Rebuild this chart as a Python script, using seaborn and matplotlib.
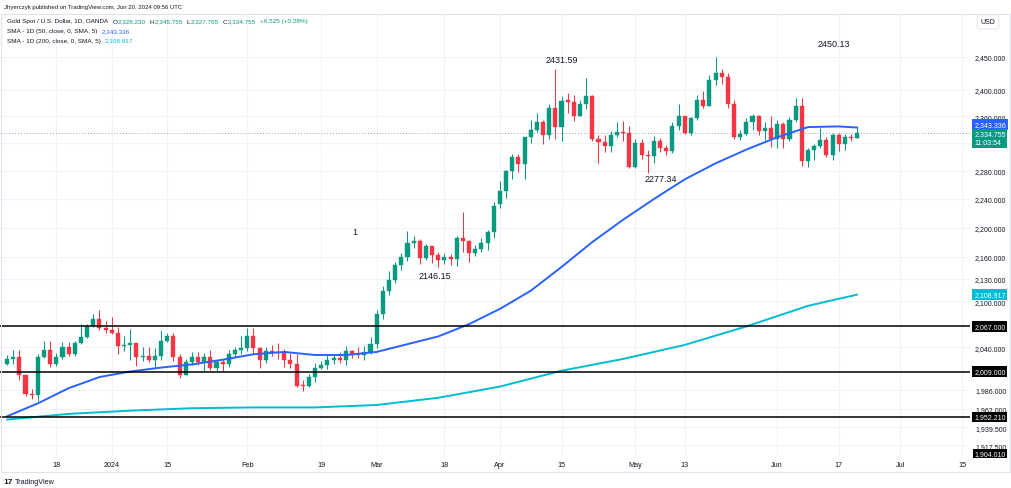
import numpy as np
import pandas as pd
import matplotlib
matplotlib.use("Agg")
import matplotlib.pyplot as plt
import seaborn as sns
from matplotlib.ticker import NullLocator
from matplotlib.patches import Rectangle

# ---------------- data ----------------
holidays = ["2023-12-25", "2024-01-01", "2024-03-29"]
dates_all = pd.bdate_range("2023-12-06", "2024-07-31")
dates_all = dates_all[~dates_all.isin(pd.to_datetime(holidays))]

opens = [2019, 2025, 2028, 2004, 1981, 1979, 2027, 2036, 2019, 2027, 2040, 2031, 2045, 2053, 2067, 2077, 2065,
         2062, 2058, 2041, 2043, 2045, 2028, 2029, 2024, 2029, 2048, 2054, 2027, 2005, 2021, 2028, 2021, 2028, 2013, 2021, 2018, 2031, 2036,
         2039, 2054, 2039, 2024, 2035, 2034, 2033, 2024, 2019, 1992, 1991, 2002, 2013, 2017, 2024, 2026, 2024, 2035, 2031, 2030, 2034,
         2044, 2083, 2114, 2128, 2148, 2160, 2179, 2182, 2158, 2174, 2162, 2155, 2160, 2157, 2186, 2181, 2165, 2171, 2179, 2194,
         2233, 2251, 2280, 2300, 2290, 2329, 2339, 2352, 2333, 2372, 2344, 2384, 2382, 2361, 2379, 2391, 2327, 2322, 2316, 2332, 2337, 2336,
         2286, 2320, 2303, 2301, 2323, 2314, 2309, 2346, 2360, 2336, 2358, 2385, 2376, 2415, 2425, 2420, 2378, 2329, 2334, 2351, 2360, 2338, 2343,
         2327, 2349, 2327, 2355, 2375, 2294, 2311, 2316, 2325, 2303, 2333, 2319, 2329, 2328.23]
highs = [2030, 2036, 2036, 2005, 1987, 2031, 2048, 2048, 2032, 2047, 2047, 2048, 2070, 2070, 2083, 2088, 2074,
         2079, 2066, 2055, 2064, 2046, 2040, 2040, 2039, 2062, 2059, 2058, 2031, 2025, 2034, 2034, 2032, 2037, 2024, 2025, 2036, 2040, 2055,
         2065, 2065, 2040, 2040, 2043, 2045, 2038, 2032, 2031, 1998, 2006, 2020, 2023, 2031, 2030, 2034, 2041, 2037, 2040, 2041, 2053,
         2088, 2120, 2141, 2153, 2165, 2195, 2189, 2184, 2178, 2175, 2166, 2165, 2164, 2188, 2222, 2183, 2176, 2185, 2196, 2236,
         2265, 2281, 2305, 2305, 2330, 2354, 2365, 2355, 2378, 2431.59, 2390, 2395, 2392, 2384, 2418, 2392, 2333, 2333, 2338, 2352, 2353, 2346,
         2326, 2326, 2311, 2331, 2328, 2318, 2352, 2378, 2361, 2359, 2392, 2398, 2422, 2450.13, 2432, 2425, 2385, 2339, 2358, 2364, 2362, 2351, 2360,
         2354, 2352, 2359, 2388, 2387, 2313, 2319, 2342, 2330, 2335, 2335, 2334, 2334, 2345.755]
lows = [2017, 2018, 1998, 1978, 1974, 1972, 2026, 2015, 2016, 2025, 2029, 2029, 2044, 2052, 2066, 2062, 2058,
        2057, 2031, 2035, 2024, 2016, 2022, 2021, 2013, 2024, 2047, 2023, 2001, 2004, 2017, 2017, 2010, 2011, 2010, 2010, 2015, 2027, 2031,
        2035, 2031, 2014, 2020, 2029, 2025, 2015, 2013, 1990, 1984, 1989, 1996, 2012, 2012, 2019, 2020, 2017, 2026, 2026, 2024, 2031,
        2039, 2077, 2109, 2124, 2142, 2154, 2172, 2150, 2155, 2152, 2146.15, 2150, 2148, 2147, 2167, 2153, 2161, 2167, 2169, 2186,
        2228, 2242, 2268, 2278, 2268, 2321, 2337, 2319, 2326, 2326, 2323, 2365, 2353, 2360, 2371, 2323, 2291, 2308, 2308, 2330, 2324, 2285,
        2285, 2297, 2277.34, 2292, 2308, 2303, 2306, 2339, 2334, 2333, 2354, 2373, 2376, 2407, 2408, 2373, 2326, 2325, 2332, 2340, 2332, 2325, 2315,
        2314, 2314, 2323, 2352, 2287, 2286, 2296, 2313, 2300, 2296, 2309, 2311, 2323, 2327.765]
closes = [2025, 2028, 2004, 1981, 1979, 2027, 2036, 2019, 2027, 2040, 2031, 2045, 2053, 2067, 2077, 2065, 2062,
          2058, 2041, 2043, 2045, 2028, 2029, 2024, 2029, 2048, 2054, 2027, 2005, 2021, 2028, 2021, 2028, 2013, 2021, 2018, 2031, 2036, 2039,
          2054, 2039, 2024, 2035, 2034, 2033, 2024, 2019, 1991, 1991, 2002, 2013, 2017, 2024, 2026, 2024, 2035, 2031, 2030, 2034, 2044,
          2083, 2114, 2128, 2148, 2160, 2179, 2182, 2158, 2174, 2162, 2155, 2160, 2157, 2186, 2181, 2165, 2171, 2179, 2194, 2230,
          2251, 2280, 2300, 2290, 2329, 2339, 2352, 2333, 2372, 2344, 2383, 2382, 2361, 2379, 2391, 2327, 2322, 2316, 2332, 2337, 2336, 2286,
          2320, 2303, 2301, 2323, 2314, 2309, 2346, 2360, 2336, 2358, 2385, 2376, 2415, 2425, 2420, 2378, 2329, 2334, 2351, 2360, 2338, 2343, 2327,
          2349, 2327, 2355, 2375, 2294, 2311, 2316, 2325, 2303, 2333, 2319, 2329, 2328.23, 2334.755]

sma50_dates = ["2023-12-06", "2023-12-13", "2023-12-20", "2023-12-28", "2024-01-05", "2024-01-12", "2024-01-19",
               "2024-01-26", "2024-02-02", "2024-02-09", "2024-02-16", "2024-02-23", "2024-03-01", "2024-03-08",
               "2024-03-15", "2024-03-22", "2024-04-01", "2024-04-08", "2024-04-15", "2024-04-22", "2024-04-29",
               "2024-05-06", "2024-05-13", "2024-05-20", "2024-05-27", "2024-06-03", "2024-06-10", "2024-06-17",
               "2024-06-20"]
sma50_vals = [1953, 1969, 1988, 2002, 2009, 2014, 2018, 2024, 2031, 2034, 2030, 2030, 2034, 2044, 2054, 2070,
              2090, 2114, 2146, 2180, 2211, 2240, 2268, 2291, 2311, 2329, 2344, 2345, 2343.336]
sma200_dates = ["2023-12-06", "2023-12-20", "2024-01-05", "2024-01-19", "2024-02-02", "2024-02-16", "2024-03-01",
                "2024-03-15", "2024-04-01", "2024-04-15", "2024-04-29", "2024-05-13", "2024-05-27", "2024-06-10",
                "2024-06-20"]
sma200_vals = [1949, 1956, 1960, 1963, 1964, 1964, 1967, 1976, 1990, 2010, 2025, 2043, 2067, 2094, 2108.917]

levels = [2067.0, 2009.0, 1952.21]
level_low = 1904.01

tick_dates = ["2023-12-18", "2024-01-02", "2024-01-15", "2024-02-01", "2024-02-19", "2024-03-01", "2024-03-18",
              "2024-04-01", "2024-04-15", "2024-05-01", "2024-05-13", "2024-06-03", "2024-06-17", "2024-07-01",
              "2024-07-15"]
tick_labels = ["18", "2024", "15", "Feb", "19", "Mar", "18", "Apr", "15", "May", "13", "Jun", "17", "Jul", "15"]

price_ticks = [2450, 2400, 2360, 2320, 2280, 2240, 2200, 2160, 2130, 2100, 2040, 1986, 1962, 1939.5, 1917.5]
hidden_ticks = [2320]  # covered by the last-price label in the reference

# ---------------- style ----------------
sns.set_theme(style="white")
plt.rcParams["font.family"] = ["Liberation Sans", "DejaVu Sans"]

W, H = 1011, 489
DARK = "#131722"
UP, DOWN = "#089981", "#f23645"
BLUE, CYAN = "#2962ff", "#00bcd4"
GRID = "#f0f3fa"

fig = plt.figure(figsize=(W / 100, H / 100), dpi=100)
fig.patch.set_facecolor("white")
top_px, bot_px, right_px = 15, 457, 970
ax = fig.add_axes([0, 1 - bot_px / H, right_px / W, (bot_px - top_px) / H])
ax.set_facecolor("white")

date_pos = {d: i for i, d in enumerate(dates_all)}
n = len(closes)
x = np.arange(n)
o, h, l, c = map(np.asarray, (opens, highs, lows, closes))
cols = np.where(c >= o, UP, DOWN)

ax.set_yscale("log")

# candles
ax.vlines(x, l, h, colors=cols, lw=0.75, zorder=3)
body_lo = np.minimum(o, c)
body_h = np.maximum(np.abs(c - o), 0.6)
ax.bar(x, body_h, bottom=body_lo, width=0.66, color=cols, edgecolor=cols, linewidth=0.3, zorder=4)

# SMAs
s50x = [date_pos[pd.Timestamp(d)] for d in sma50_dates]
s200x = [date_pos[pd.Timestamp(d)] for d in sma200_dates]
sns.lineplot(x=s50x, y=sma50_vals, ax=ax, color=BLUE, lw=1.4, zorder=5)
sns.lineplot(x=s200x, y=sma200_vals, ax=ax, color=CYAN, lw=1.4, zorder=5)

# horizontal levels
for lv in levels:
    ax.axhline(lv, color="black", lw=1.1, zorder=6)
ax.axhline(closes[-1], color="#9aa3ad", lw=0.7, ls=(0, (1, 2)), zorder=2)

# axes settings
ax.set_xlim(-1.14, 156.3)
ax.set_ylim(1904.7, 2517.4)
ax.set_yticks(price_ticks, ["" if v in hidden_ticks else f"{v:,.3f}" for v in price_ticks])
ax.yaxis.set_minor_locator(NullLocator())
ax.yaxis.tick_right()
tick_pos = [date_pos[pd.Timestamp(d)] for d in tick_dates]
ax.set_xticks(tick_pos, tick_labels)
ax.tick_params(axis="y", length=0, pad=3.6, labelsize=5, labelcolor=DARK)
ax.tick_params(axis="x", length=0, pad=3.5, labelsize=5.2, labelcolor=DARK)
ax.grid(True, color=GRID, lw=0.8, zorder=0)
ax.set_axisbelow(True)
for s in ax.spines.values():
    s.set_visible(False)
ax.set_xlabel("")
ax.set_ylabel("")

# price-axis boxes
def pbox(y, txt, fc, dy=0, coords="data", va="center", pad=0.25):
    ax.annotate(txt, xy=(1, y), xycoords=("axes fraction", coords), xytext=(3.0, dy),
                textcoords="offset points", ha="left", va=va, fontsize=5, color="white",
                bbox=dict(boxstyle=f"square,pad={pad}", fc=fc, ec="none"), annotation_clip=False, zorder=20,
                linespacing=1.3)

pbox(sma50_vals[-1], f"{sma50_vals[-1]:,.3f}", BLUE, dy=2.2)
pbox(closes[-1], f"{closes[-1]:,.3f}\n11:03:54", UP, dy=-3.4)
pbox(sma200_vals[-1], f"{sma200_vals[-1]:,.3f}", CYAN)
for lv in levels:
    pbox(lv, f"{lv:,.3f}", "black")
pbox(0.006, f"{level_low:,.3f}", "black", coords="axes fraction", pad=0.18)

# annotations
imax = int(np.argmax(np.where(x < 105, h, 0)))
ax.annotate(f"{h[imax]:.2f}", xy=(imax, h[imax]), xytext=(4.3, 6.5), textcoords="offset points",
            ha="center", va="center", fontsize=6.5, color=DARK)
hi2 = int(np.argmax(np.where(x > 105, h, 0)))
ax.annotate(f"{h[hi2]:.2f}", xy=(hi2, h[hi2]), xytext=(85, 10), textcoords="offset points",
            ha="center", va="center", fontsize=6.5, color=DARK)
lo1 = int(np.argmin(np.where((x > 95) & (x < 125), l, 1e9)))
ax.annotate(f"{l[lo1]:.2f}", xy=(lo1, l[lo1]), xytext=(9.4, -3.8), textcoords="offset points",
            ha="center", va="center", fontsize=6.5, color=DARK)
lo2 = int(np.argmin(np.where((x > 65) & (x < 80), l, 1e9)))
ax.annotate(f"{l[lo2]:.2f}", xy=(lo2, l[lo2]), xytext=(-2.5, -6.5), textcoords="offset points",
            ha="center", va="center", fontsize=6.5, color=DARK)
ax.text(56.5, 2194, "1", fontsize=6.5, color=DARK, ha="center", va="center")

# frame
fig.add_artist(Rectangle((0.5 / W, 1 - 473 / H), 1009.5 / W, (473 - top_px) / H, transform=fig.transFigure,
                         fill=False, ec="#e0e3eb", lw=0.8))

# header texts
fig.text(4 / W, 1 - 7 / H, "Jhyerczyk published on TradingView.com, Jun 20, 2024 09:56 UTC",
         fontsize=4.3, color=DARK, va="center", ha="left")

def chain(parts, x_px, y_px, fs=4.6):
    prev = fig.text(x_px / W, 1 - y_px / H, parts[0][0], fontsize=fs, color=parts[0][1], va="center", ha="left")
    for s, col, gap in parts[1:]:
        prev = ax.annotate(s, xy=(1, 0), xycoords=prev, xytext=(gap, 0), textcoords="offset points",
                           ha="left", va="bottom", fontsize=fs, color=col, annotation_clip=False)

chain([("Gold Spot / U.S. Dollar, 1D, OANDA", DARK, 0), ("O", DARK, 3), ("2,328.230", UP, 0),
       ("H", DARK, 3), ("2,345.755", UP, 0), ("L", DARK, 3), ("2,327.765", UP, 0),
       ("C", DARK, 3), ("2,334.755", UP, 0), ("+6.525 (+0.28%)", UP, 3)], 7, 22)
chain([("SMA - 1D (50, close, 0, SMA, 5)", DARK, 0), ("2,343.336", BLUE, 3)], 7, 32)
chain([("SMA - 1D (200, close, 0, SMA, 5)", DARK, 0), ("2,108.917", CYAN, 3)], 7, 41)

fig.text(988 / W, 1 - 23 / H, "USD", fontsize=5, color=DARK, ha="center", va="center",
         bbox=dict(boxstyle="round,pad=0.5,rounding_size=0.4", fc="white", ec="#e0e3eb", lw=0.6))

# footer logo
t = fig.text(3 / W, 1 - 483 / H, "17", fontsize=6, fontweight="bold", color=DARK, va="center", ha="left")
ax.annotate("TradingView", xy=(1, 0), xycoords=t, xytext=(1.5, 0), textcoords="offset points",
            ha="left", va="bottom", fontsize=5.2, color=DARK, annotation_clip=False)

fig.savefig("out.png", dpi=100, facecolor="white")
